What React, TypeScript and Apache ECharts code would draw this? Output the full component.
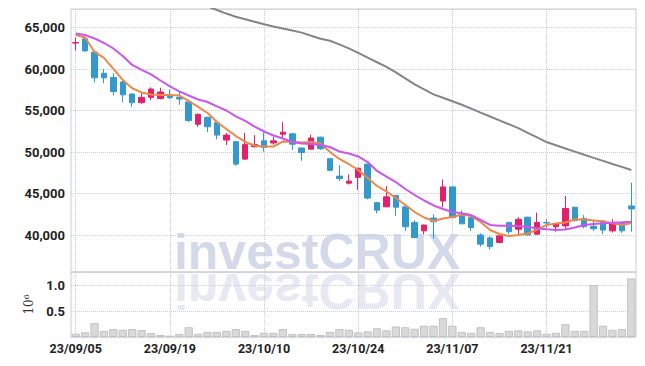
import React, { useEffect, useRef } from 'react';
import * as echarts from 'echarts';

const dates = [
  '23/09/05', '23/09/06', '23/09/07', '23/09/08', '23/09/11', '23/09/12', '23/09/13', '23/09/14', '23/09/15', '23/09/18',
  '23/09/19', '23/09/20', '23/09/21', '23/09/22', '23/09/25', '23/09/26', '23/09/27', '23/10/04', '23/10/05', '23/10/06',
  '23/10/10', '23/10/11', '23/10/12', '23/10/13', '23/10/16', '23/10/17', '23/10/18', '23/10/19', '23/10/20', '23/10/23',
  '23/10/24', '23/10/25', '23/10/26', '23/10/27', '23/10/30', '23/10/31', '23/11/01', '23/11/02', '23/11/03', '23/11/06',
  '23/11/07', '23/11/08', '23/11/09', '23/11/10', '23/11/13', '23/11/14', '23/11/15', '23/11/16', '23/11/17', '23/11/20',
  '23/11/21', '23/11/22', '23/11/23', '23/11/24', '23/11/27', '23/11/28', '23/11/29', '23/11/30', '23/12/01', '23/12/04',
];

const opens = [
  63150, 63650, 62050, 59500, 59000, 58450, 57000, 55950, 56600, 56450,
  56750, 56600, 56050, 53350, 54200, 53550, 51450, 51250, 49150, 50650,
  51350, 51100, 52150, 52200, 50500, 50350, 51800, 49200, 47100, 46250,
  46950, 48550, 43900, 43400, 44750, 43400, 41500, 40500, 42050, 44100,
  45800, 42500, 42100, 40000, 39650, 39100, 41500, 40700, 42150, 40100,
  41500, 41000, 41100, 43350, 42000, 41050, 41700, 40500, 41500, 43500,
];
const closes = [
  63200, 62200, 58950, 58950, 57300, 56900, 55950, 56600, 57600, 57250,
  56550, 56400, 53800, 54550, 53050, 52050, 52050, 48550, 50900, 50900,
  50550, 51350, 52400, 50950, 49950, 51700, 50400, 47800, 46800, 46500,
  48050, 44450, 43000, 44600, 43350, 41000, 39700, 41200, 41600, 45800,
  42100, 41350, 40900, 38900, 38600, 39900, 40400, 41900, 40000, 41500,
  41450, 41350, 43200, 41750, 41000, 40750, 40600, 41400, 40500, 43150,
];
const lows = [
  62250, 62100, 58400, 58300, 56850, 56000, 55450, 55850, 56250, 56350,
  56400, 55700, 53600, 53050, 52400, 51550, 50850, 48350, 49050, 50550,
  50050, 50900, 51750, 50250, 48950, 50350, 50250, 47700, 46500, 46100,
  45450, 44300, 42600, 43350, 42300, 40500, 39600, 40100, 39600, 43350,
  42000, 41300, 40500, 38600, 38250, 39000, 40100, 40100, 39950, 40050,
  40800, 40400, 40600, 41600, 40800, 40500, 40100, 40300, 40250, 40400,
];
const highs = [
  63800, 63700, 62100, 60000, 59500, 58800, 57050, 57150, 57800, 57750,
  57550, 57250, 56100, 54650, 54250, 53600, 52300, 51300, 52300, 52050,
  52350, 51850, 53600, 52300, 50500, 52100, 51850, 49250, 48400, 47300,
  48100, 48600, 44000, 45900, 44850, 43500, 41800, 41250, 42500, 46700,
  45850, 42950, 42200, 40200, 39850, 39950, 41600, 42150, 42200, 42700,
  41900, 41400, 44700, 43400, 42400, 41700, 41750, 41900, 41550, 46300,
];

const ma5 = [
  64120, 63820, 62070, 61350, 60020, 58690, 57690, 57190, 56940, 56880,
  56880, 56820, 56160, 55440, 54710, 53630, 52780, 51940, 51220, 50790,
  50670, 50670, 51280, 51220, 51160, 51220, 51030, 50010, 49170, 48560,
  47840, 46870, 45910, 45250, 44460, 43620, 42770, 42110, 41690, 41990,
  42170, 42470, 42290, 41570, 40600, 40120, 39880, 40000, 40180, 40660,
  41210, 41390, 41510, 41870, 41870, 41750, 41630, 41410, 41210, 41450,
];
const ma20 = [
  64300, 64120, 63700, 63150, 62490, 61590, 60500, 59900, 59360, 58630,
  57910, 57310, 56820, 56340, 56040, 55500, 55010, 54300, 53750, 53080,
  52480, 52000, 51640, 51220, 51030, 50970, 50850, 50610, 50070, 49830,
  49470, 48800, 47720, 47050, 46390, 45550, 44820, 44160, 43560, 43140,
  42770, 42620, 42410, 41810, 41210, 41120, 41120, 41090, 40960, 40810,
  40690, 40600, 40660, 40900, 41210, 41330, 41410, 41480, 41530, 41600,
];
const ma60 = [
  73850, 73400, 72950, 72500, 72050, 71600, 71150, 70700, 70250, 69800,
  69350, 68900, 68450, 68000, 67560, 67130, 66700, 66320, 66020, 65720,
  65420, 65150, 64900, 64650, 64400, 64030, 63670, 63420, 62980, 62500,
  61960, 61380, 60830, 60270, 59600, 58880, 58170, 57560, 56960, 56550,
  56130, 55700, 55230, 54760, 54290, 53830, 53360, 52880, 52320, 51760,
  51210, 50820, 50430, 50050, 49670, 49300, 48940, 48570, 48210, 47840,
];

// volume in millions of shares
const volumes = [
  0.064, 0.09, 0.27, 0.12, 0.155, 0.14, 0.155, 0.135, 0.077, 0.04,
  0.026, 0.058, 0.19, 0.064, 0.10, 0.10, 0.12, 0.155, 0.12, 0.04,
  0.083, 0.083, 0.155, 0.058, 0.058, 0.058, 0.04, 0.10, 0.155, 0.14,
  0.09, 0.11, 0.17, 0.13, 0.205, 0.19, 0.16, 0.22, 0.22, 0.37,
  0.22, 0.10, 0.083, 0.19, 0.10, 0.077, 0.12, 0.13, 0.11, 0.13,
  0.064, 0.083, 0.25, 0.12, 0.12, 1.01, 0.22, 0.14, 0.155, 1.14,
];

const UP = '#e3206a';
const DOWN = '#3399cc';
const GRID_LINE = '#c9cbe0';
const LABEL_FONT = 'Roboto, "DejaVu Sans Condensed", sans-serif';

export default function App() {
  const ref = useRef<HTMLDivElement>(null);

  useEffect(() => {
    if (!ref.current) return;
    const chart = echarts.init(ref.current, null, { renderer: 'svg' });
    const candles = opens.map((o, i) => [o, closes[i], lows[i], highs[i]]);

    const splitX = {
      show: true,
      interval: 9,
      alignWithLabel: true,
      lineStyle: { type: 'dotted', color: GRID_LINE, width: 1 },
    };
    const yLabel = {
      showMinLabel: false,
      showMaxLabel: false,
      color: '#222',
      fontSize: 13,
      fontWeight: 'bold',
      margin: 6,
      fontFamily: LABEL_FONT,
    };

    chart.setOption({
      animation: false,
      backgroundColor: '#ffffff',
      textStyle: { fontFamily: LABEL_FONT },
      grid: [
        { left: 71, right: 9, top: 9, height: 263, show: true, borderColor: '#cccccc', borderWidth: 1 },
        { left: 71, right: 9, top: 272, height: 65, show: true, borderColor: '#cccccc', borderWidth: 1 },
      ],
      graphic: [
        {
          type: 'text',
          x: 317,
          y: 252,
          z: -10,
          silent: true,
          style: {
            text: 'investCRUX',
            font: 'bold 50px "Liberation Sans", Arial, sans-serif',
            fill: '#d4d9ea',
            align: 'center',
            verticalAlign: 'middle',
          },
        },
        {
          type: 'text',
          x: 317,
          y: 291,
          scaleY: -1,
          z: -10,
          silent: true,
          style: {
            text: 'investCRUX',
            font: 'bold 50px "Liberation Sans", Arial, sans-serif',
            fill: '#e7e9f2',
            align: 'center',
            verticalAlign: 'middle',
          },
        },
      ],
      xAxis: [
        {
          type: 'category',
          gridIndex: 0,
          data: dates,
          boundaryGap: true,
          axisLine: { show: false },
          axisTick: { show: false },
          axisLabel: { show: false, interval: 9 },
          splitLine: splitX,
        },
        {
          type: 'category',
          gridIndex: 1,
          data: dates,
          boundaryGap: true,
          axisLine: { show: false },
          axisTick: { show: false },
          axisLabel: {
            show: true,
            interval: 9,
            color: '#222',
            fontSize: 12.5,
            fontWeight: 'bold',
            margin: 5,
            fontFamily: LABEL_FONT,
          },
          splitLine: splitX,
        },
      ],
      yAxis: [
        {
          type: 'value',
          gridIndex: 0,
          min: 35540,
          max: 67250,
          axisLine: { show: false },
          axisTick: { show: false },
          axisLabel: {
            ...yLabel,
            formatter: (v: number) => v.toLocaleString('en-US'),
          },
          splitLine: { show: true, lineStyle: { type: 'dotted', color: GRID_LINE } },
        },
        {
          type: 'value',
          gridIndex: 1,
          min: 0,
          max: 1.265,
          interval: 0.5,
          name: '10⁶',
          nameLocation: 'middle',
          nameRotate: 90,
          nameGap: 21,
          nameTextStyle: { fontFamily: '"DejaVu Serif", serif', fontSize: 12, color: '#333' },
          axisLine: { show: false },
          axisTick: { show: false },
          axisLabel: {
            ...yLabel,
            formatter: (v: number) => v.toFixed(1),
          },
          splitLine: { show: true, lineStyle: { type: 'dotted', color: GRID_LINE } },
        },
      ],
      series: [
        {
          type: 'candlestick',
          name: 'price',
          xAxisIndex: 0,
          yAxisIndex: 0,
          data: candles,
          barWidth: 6,
          z: 3,
          itemStyle: {
            color: UP,
            color0: DOWN,
            borderColor: UP,
            borderColor0: DOWN,
            borderWidth: 1,
          },
        },
        {
          type: 'line',
          name: 'MA5',
          xAxisIndex: 0,
          yAxisIndex: 0,
          data: ma5,
          showSymbol: false,
          z: 4,
          lineStyle: { color: '#ef8748', width: 2 },
        },
        {
          type: 'line',
          name: 'MA20',
          xAxisIndex: 0,
          yAxisIndex: 0,
          data: ma20,
          showSymbol: false,
          z: 4,
          lineStyle: { color: '#cc55ee', width: 2 },
        },
        {
          type: 'line',
          name: 'MA60',
          xAxisIndex: 0,
          yAxisIndex: 0,
          data: ma60,
          showSymbol: false,
          clip: true,
          z: 4,
          lineStyle: { color: '#858585', width: 2 },
        },
        {
          type: 'bar',
          name: 'volume',
          xAxisIndex: 1,
          yAxisIndex: 1,
          data: volumes,
          barWidth: '88%',
          z: 3,
          itemStyle: { color: '#d9d9d9', borderColor: '#c2c2c2', borderWidth: 1 },
        },
      ],
    });

    return () => chart.dispose();
  }, []);

  return (
    <div
      ref={ref}
      style={{ position: 'fixed', left: 0, top: 0, width: 645, height: 366 }}
    />
  );
}
